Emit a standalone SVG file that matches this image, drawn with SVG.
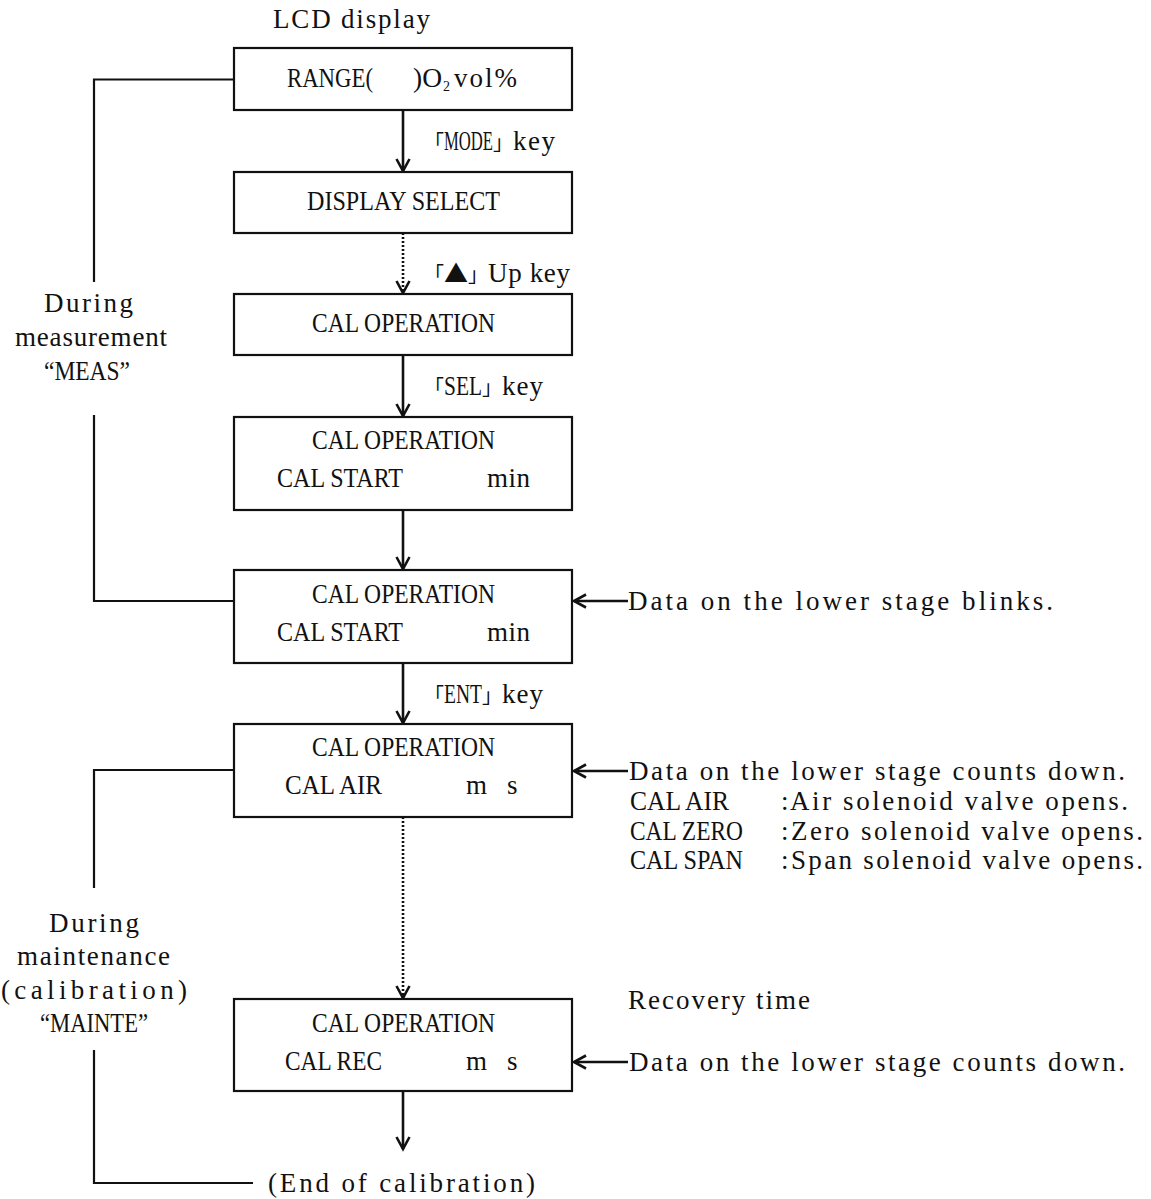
<svg xmlns="http://www.w3.org/2000/svg" width="1151" height="1199" viewBox="0 0 1151 1199">
<style>
text{font-family:"Liberation Serif","Noto Sans CJK JP",serif;font-size:27px;fill:#111}
.b{font-family:"Noto Sans CJK JP",sans-serif;font-size:20px}
.t{font-family:"Noto Sans CJK JP",sans-serif;font-size:24px}
.box{fill:#fff;stroke:#111;stroke-width:2.2}
.ln{fill:none;stroke:#111;stroke-width:2.2}
.ar{fill:none;stroke:#111;stroke-width:2.6}
.dot{fill:none;stroke:#111;stroke-width:2.6;stroke-dasharray:2 2}
</style>
<defs>
<marker id="ah" markerUnits="userSpaceOnUse" markerWidth="18" markerHeight="18" refX="14" refY="8" orient="auto">
<path d="M2,1.5 L14,8 L2,14.5" fill="none" stroke="#111" stroke-width="2.6"/>
</marker>
</defs>
<text x="273" y="28" textLength="157">LCD display</text>

<g id="connectors">
<line class="ar" x1="403" y1="110" x2="403" y2="171" marker-end="url(#ah)"/>
<line class="dot" x1="403" y1="233" x2="403" y2="293" marker-end="url(#ah)"/>
<line class="ar" x1="403" y1="355" x2="403" y2="416" marker-end="url(#ah)"/>
<line class="ar" x1="403" y1="510" x2="403" y2="569" marker-end="url(#ah)"/>
<line class="ar" x1="403" y1="663" x2="403" y2="723" marker-end="url(#ah)"/>
<line class="dot" x1="403" y1="817" x2="403" y2="998" marker-end="url(#ah)"/>
<line class="ar" x1="403" y1="1091" x2="403" y2="1149" marker-end="url(#ah)"/>
<line class="ar" x1="628" y1="601" x2="574" y2="601" marker-end="url(#ah)"/>
<line class="ar" x1="628" y1="771" x2="574" y2="771" marker-end="url(#ah)"/>
<line class="ar" x1="628" y1="1062" x2="574" y2="1062" marker-end="url(#ah)"/>
<polyline class="ln" points="234,79.5 94,79.5 94,282"/>
<polyline class="ln" points="94,415 94,601 234,601"/>
<polyline class="ln" points="234,770 94,770 94,888"/>
<polyline class="ln" points="94,1050 94,1183 253,1183"/>
</g>

<g id="labels">
<text x="424" y="150"><tspan class="b">「</tspan><tspan textLength="49" lengthAdjust="spacingAndGlyphs">MODE</tspan><tspan class="b">」</tspan><tspan textLength="42">key</tspan></text>
<text x="424" y="282"><tspan class="b">「</tspan><tspan class="t">▲</tspan><tspan class="b">」</tspan><tspan textLength="82">Up key</tspan></text>
<text x="424" y="395"><tspan class="b">「</tspan><tspan textLength="38" lengthAdjust="spacingAndGlyphs">SEL</tspan><tspan class="b">」</tspan><tspan textLength="41">key</tspan></text>
<text x="424" y="703"><tspan class="b">「</tspan><tspan textLength="38" lengthAdjust="spacingAndGlyphs">ENT</tspan><tspan class="b">」</tspan><tspan textLength="41">key</tspan></text>
<text x="628" y="610" textLength="425">Data on the lower stage blinks.</text>
<text x="629" y="780" textLength="496">Data on the lower stage counts down.</text>
<text y="810"><tspan x="630" textLength="99" lengthAdjust="spacingAndGlyphs">CAL AIR</tspan><tspan x="781">:</tspan><tspan x="790" textLength="338">Air solenoid valve opens.</tspan></text>
<text y="840"><tspan x="630" textLength="113" lengthAdjust="spacingAndGlyphs">CAL ZERO</tspan><tspan x="781">:</tspan><tspan x="791" textLength="352">Zero solenoid valve opens.</tspan></text>
<text y="869"><tspan x="630" textLength="113" lengthAdjust="spacingAndGlyphs">CAL SPAN</tspan><tspan x="781">:</tspan><tspan x="791" textLength="352">Span solenoid valve opens.</tspan></text>
<text x="628" y="1009" textLength="182">Recovery time</text>
<text x="629" y="1071" textLength="496">Data on the lower stage counts down.</text>
<text x="44" y="312" textLength="89">During</text>
<text x="15" y="346" textLength="152">measurement</text>
<text x="44" y="380" textLength="86" lengthAdjust="spacingAndGlyphs">“MEAS”</text>
<text x="49" y="932" textLength="90">During</text>
<text x="17" y="965" textLength="153">maintenance</text>
<text x="1" y="999" textLength="186">(calibration)</text>
<text x="40" y="1032" textLength="108" lengthAdjust="spacingAndGlyphs">“MAINTE”</text>
<text x="268" y="1192" textLength="267">(End of calibration)</text>
</g>

<g id="n1"><rect class="box" x="234" y="48" width="338" height="62"/>
<text y="87"><tspan x="287" textLength="86" lengthAdjust="spacingAndGlyphs">RANGE(</tspan><tspan x="413" textLength="29" lengthAdjust="spacingAndGlyphs">)O</tspan><tspan x="443" dy="4" font-size="14">2</tspan><tspan x="454" dy="-4" textLength="63">vol%</tspan></text></g>
<g id="n2"><rect class="box" x="234" y="172" width="338" height="61"/>
<text x="307" y="210" textLength="193" lengthAdjust="spacingAndGlyphs">DISPLAY SELECT</text></g>
<g id="n3"><rect class="box" x="234" y="294" width="338" height="61"/>
<text x="312" y="332" textLength="183" lengthAdjust="spacingAndGlyphs">CAL OPERATION</text></g>
<g id="n4"><rect class="box" x="234" y="417" width="338" height="93"/>
<text x="312" y="449" textLength="183" lengthAdjust="spacingAndGlyphs">CAL OPERATION</text>
<text y="487"><tspan x="277" textLength="126" lengthAdjust="spacingAndGlyphs">CAL START</tspan><tspan x="487" textLength="43">min</tspan></text></g>
<g id="n5"><rect class="box" x="234" y="570" width="338" height="93"/>
<text x="312" y="603" textLength="183" lengthAdjust="spacingAndGlyphs">CAL OPERATION</text>
<text y="641"><tspan x="277" textLength="126" lengthAdjust="spacingAndGlyphs">CAL START</tspan><tspan x="487" textLength="43">min</tspan></text></g>
<g id="n6"><rect class="box" x="234" y="724" width="338" height="93"/>
<text x="312" y="756" textLength="183" lengthAdjust="spacingAndGlyphs">CAL OPERATION</text>
<text y="794"><tspan x="285" textLength="97" lengthAdjust="spacingAndGlyphs">CAL AIR</tspan><tspan x="466">m</tspan><tspan x="507">s</tspan></text></g>
<g id="n7"><rect class="box" x="234" y="999" width="338" height="92"/>
<text x="312" y="1032" textLength="183" lengthAdjust="spacingAndGlyphs">CAL OPERATION</text>
<text y="1070"><tspan x="285" textLength="97" lengthAdjust="spacingAndGlyphs">CAL REC</tspan><tspan x="466">m</tspan><tspan x="507">s</tspan></text></g>
</svg>
